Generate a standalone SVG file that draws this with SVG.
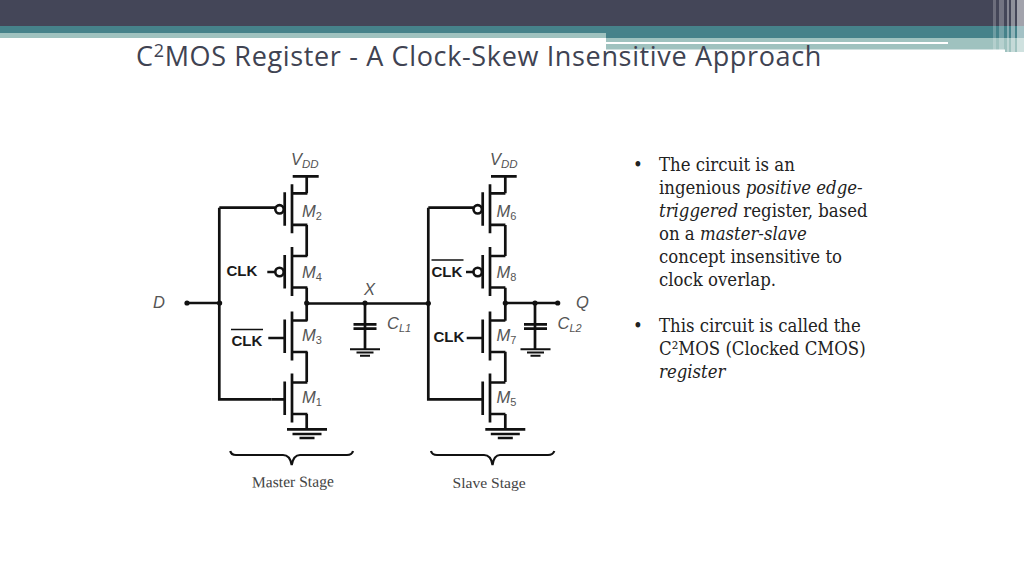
<svg xmlns="http://www.w3.org/2000/svg" width="1024" height="576" viewBox="0 0 1024 576">
<defs>
<style>
.w{fill:none;stroke:#111;stroke-width:2.7}
.bub{fill:#fff;stroke:#111;stroke-width:2.6}
.dot{fill:#111}
.lab{font-family:"Liberation Sans",Arial,sans-serif;font-style:italic;font-size:16.5px;fill:#555}
.lab tspan{font-style:normal}
.clk{font-family:"Liberation Sans",Arial,sans-serif;font-weight:bold;font-size:15px;fill:#1a1a1a}
.stage{font-family:"Liberation Serif","Times New Roman",serif;font-size:15.6px;fill:#444}
.body{font-family:"DejaVu Serif","Liberation Serif",serif;font-stretch:condensed;font-size:18.4px;fill:#222}
.title{font-family:"Open Sans","Noto Sans",sans-serif;font-size:27px;letter-spacing:.65px;fill:#404352}
</style>
<path id="fet" class="w" d="M292 0V49M292 9H307.4M292 40.5H307.4M284.7 8V41.5"/>
<path id="gnd" class="w" d="M-20 0H20M-14.5 4.7H14.5M-7.5 8.7H7.5"/>
<path id="cgnd" class="w" style="stroke-width:2" d="M-15 0H15M-8.5 3.2H8.5M-5 6.4H5"/>
<path id="plates" class="w" d="M-11.5 0H11.5M-11.5 4.4H11.5"/>
</defs>
<g id="header">
<rect x="0" y="0" width="1024" height="26" fill="#444658"/>
<rect x="0" y="26" width="1024" height="7" fill="#46828a"/>
<rect x="0" y="33" width="606" height="5" fill="#9fc2bf"/>
<rect x="606" y="33" width="418" height="5" fill="#46828a"/>
<rect x="606" y="38" width="418" height="11.5" fill="#9fc2bf"/>
<rect x="606" y="42" width="342" height="2" fill="#fff"/>
<rect x="1005" y="49" width="19" height="3" fill="#9fc2bf"/>
<g fill="#fff">
<rect x="993" y="0" width="3" height="52" opacity=".22"/>
<rect x="999" y="0" width="5" height="52" opacity=".25"/>
<rect x="1007" y="0" width="2" height="52" opacity=".35"/>
<rect x="1011" y="0" width="4" height="52" opacity=".4"/>
<rect x="1017" y="0" width="7" height="52" opacity=".5"/>
</g>
</g>
<text class="title" x="136" y="66">C<tspan dy="-9" font-size="18">2</tspan><tspan dy="9">MOS Register - A Clock-Skew Insensitive Approach</tspan></text>
<g id="connectors">
<path class="w" d="M187 303H219.3M219.3 207.7V399.3H271.7M219.3 207.7H275.5M267.3 272H275.5M268.3 338H285M306.7 303.5H428.3M428.3 207.7V399.3H470M428.3 207.7H473.5M466 272H473.5M466.7 338H483M505.3 303H557.7"/>
<path class="w" d="M306.7 176.3V193.3M306.7 225V256M306.7 287.7V320.7M306.7 351.7V382M306.7 414V429.3M365 303V349.3"/>
<path class="w" d="M505.3 176.3V193.3M505.3 225V256M505.3 287.7V320.7M505.3 351.7V382M505.3 414V429.3M535 303V349.3"/>
<path class="w" d="M292.7 176.3H318.7M491 176.3H516.7M271.7 399.3H285M470 399.3H483"/>
<g class="dot"><circle cx="187" cy="303" r="2.6"/><circle cx="219.6" cy="303" r="2.6"/><circle cx="306.7" cy="303" r="2.6"/><circle cx="365" cy="303" r="2.6"/><circle cx="428.3" cy="303.3" r="2.6"/><circle cx="505.3" cy="303" r="2.6"/><circle cx="535" cy="303" r="2.6"/><circle cx="557.7" cy="303" r="2.6"/></g>
</g>
<g id="M2"><use href="#fet" y="184.3"/><circle class="bub" cx="279.5" cy="209.3" r="4.2"/><text class="lab" x="302" y="217">M<tspan font-size="11" dy="3">2</tspan></text></g>
<g id="M4"><use href="#fet" y="247"/><circle class="bub" cx="279.5" cy="272" r="4.2"/><text class="lab" x="302" y="277.5">M<tspan font-size="11" dy="3">4</tspan></text></g>
<g id="M3"><use href="#fet" y="311.5"/><text class="lab" x="302" y="340.5">M<tspan font-size="11" dy="3">3</tspan></text></g>
<g id="M1"><use href="#fet" y="373.5"/><text class="lab" x="302" y="402.5">M<tspan font-size="11" dy="3">1</tspan></text></g>
<g id="M6"><use href="#fet" x="198" y="184.3"/><circle class="bub" cx="477.7" cy="209.3" r="4.2"/><text class="lab" x="496.5" y="217">M<tspan font-size="11" dy="3">6</tspan></text></g>
<g id="M8"><use href="#fet" x="198" y="247"/><circle class="bub" cx="477.7" cy="272" r="4.2"/><text class="lab" x="496.5" y="277.5">M<tspan font-size="11" dy="3">8</tspan></text></g>
<g id="M7"><use href="#fet" x="198" y="311.5"/><text class="lab" x="496.5" y="340.5">M<tspan font-size="11" dy="3">7</tspan></text></g>
<g id="M5"><use href="#fet" x="198" y="373.5"/><text class="lab" x="496.5" y="402.5">M<tspan font-size="11" dy="3">5</tspan></text></g>
<g id="GND1"><use href="#gnd" x="307" y="429.3"/></g>
<g id="GND2"><use href="#gnd" x="505.3" y="429.3"/></g>
<g id="CL1"><use href="#plates" x="365" y="324.3"/><use href="#cgnd" x="365" y="349.3"/><text class="lab" x="387" y="329">C<tspan font-size="11" dy="3" style="font-style:italic">L1</tspan></text></g>
<g id="CL2"><use href="#plates" x="535.5" y="324.3"/><use href="#cgnd" x="535.5" y="349.3"/><text class="lab" x="557.5" y="329">C<tspan font-size="11" dy="3" style="font-style:italic">L2</tspan></text></g>
<g id="VDD1"><text class="lab" x="291" y="164.5">V<tspan font-size="11.5" dy="3.5" style="font-style:italic">DD</tspan></text></g>
<g id="VDD2"><text class="lab" x="490" y="164.5">V<tspan font-size="11.5" dy="3.5" style="font-style:italic">DD</tspan></text></g>
<g id="D"><text class="lab" x="153" y="308">D</text></g>
<g id="X"><text class="lab" x="364" y="295">X</text></g>
<g id="Q"><text class="lab" x="576" y="307.5">Q</text></g>
<g id="CLK-labels">
<text class="clk" x="226.5" y="276">CLK</text>
<text class="clk" x="231.5" y="346">CLK</text><path d="M231 329.5H263M431.5 260H463.5" stroke="#111" stroke-width="1.5"/>
<text class="clk" x="431.5" y="277">CLK</text>
<text class="clk" x="433.5" y="342">CLK</text>
</g>
<g id="master-stage"><path class="w" style="stroke-width:2.2" d="M230.3 451Q231 455 236 455H283Q290 455 291.7 465Q293.5 455 300 455H347Q352 455 353 451"/><text class="stage" x="252" y="487.5" transform="rotate(-.7 252 487)">Master Stage</text></g>
<g id="slave-stage"><path class="w" style="stroke-width:2.2" d="M431 451Q432 455 437 455H484Q491 455 492.5 465Q494 455 500 455H548Q553 455 554.3 451"/><text class="stage" x="452.5" y="488">Slave Stage</text></g>
<g id="notes" class="body">
<text x="633" y="171">•</text>
<text x="659" y="171">The circuit is an</text>
<text x="659" y="194">ingenious <tspan font-style="italic">positive edge-</tspan></text>
<text x="659" y="217"><tspan font-style="italic">triggered</tspan> register, based</text>
<text x="659" y="240">on a <tspan font-style="italic">master-slave</tspan></text>
<text x="659" y="263">concept insensitive to</text>
<text x="659" y="286">clock overlap.</text>
<text x="633" y="332">•</text>
<text x="659" y="332">This circuit is called the</text>
<text x="659" y="355">C²MOS (Clocked CMOS)</text>
<text x="659" y="378" font-style="italic">register</text>
</g>
</svg>
